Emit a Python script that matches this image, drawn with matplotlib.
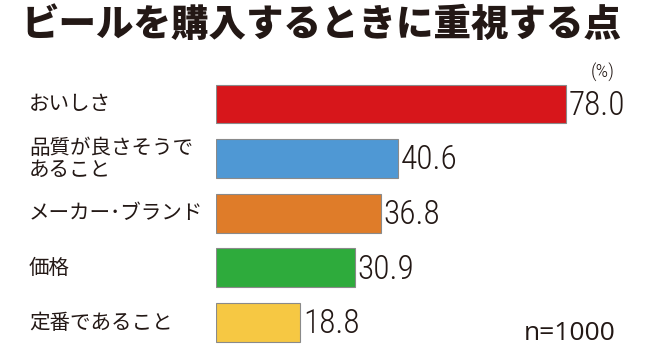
import matplotlib.pyplot as plt

# Data #
categories = ["おいしさ", "品質が良さそうで\nあること", "メーカー･ブランド", "価格", "定番であること"]
values = [78.0, 40.6, 36.8, 30.9, 18.8]
colors = ["#d7161b", "#4f98d4", "#df7c29", "#2eab3c", "#f6c843"]

plt.rcParams['font.family'] = ['Noto Sans CJK JP', 'DejaVu Sans']
num_font = ["Roboto Condensed", "DejaVu Sans"]
ink = "#231815"

fig = plt.figure(figsize=(6.45, 3.53), dpi=100)
ax = fig.add_axes([216/645, 0.009, 426/645, 0.7737])

ypos = list(range(len(values)))
ax.barh(ypos, values, height=0.71, color=colors, edgecolor="#8a8a8a", linewidth=0.8)
ax.set_xlim(0, 95)
ax.set_ylim(4.5, -0.5)
ax.axis("off")

# value labels
for y, v in zip(ypos, values):
    ax.text(v + 0.6, y + 0.03, f"{v:.1f}", va="center", ha="left", fontsize=24,
            family=num_font, fontweight=300, fontstretch="condensed", color=ink)

# category labels, left aligned in figure coords
for y, c in zip(ypos, categories):
    disp = ax.transData.transform((0, y))
    fy = fig.transFigure.inverted().transform(disp)[1]
    fig.text(29/645, fy, c, va="center", ha="left", fontsize=14.8,
             linespacing=1.0, color=ink)

fig.text(322/645, 1 - 25/353, "ビールを購入するときに重視する点", ha="center", va="center",
         fontsize=27, fontweight=900, color=ink)
fig.text(603/645, 1 - 72/353, "(%)", ha="center", va="center", fontsize=14,
         family=num_font, fontweight=300, fontstretch="condensed", color=ink)
fig.text(615/645, 1 - 333/353, "n=1000", ha="right", va="center", fontsize=19,
         family=["Open Sans", "DejaVu Sans"], color=ink)

fig.savefig("out.png", dpi=100)
